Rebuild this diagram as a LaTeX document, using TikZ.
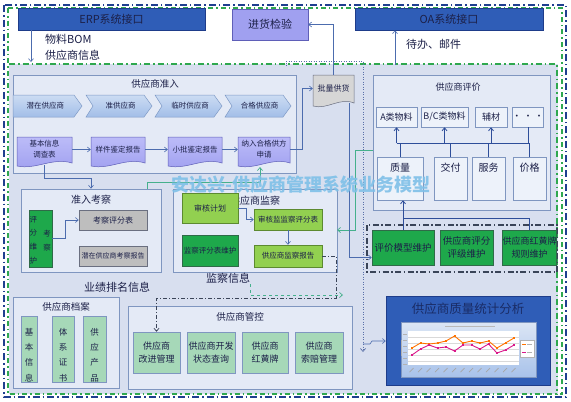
\documentclass[tikz,border=0pt]{standalone}
\usepackage{fontspec}
\setmainfont{Noto Sans CJK SC}
\usetikzlibrary{arrows.meta}
\definecolor{bgfill}{HTML}{D8DFEF}
\definecolor{pnfill}{HTML}{E4EAF6}
\definecolor{pnline}{HTML}{7F96C0}
\definecolor{dkblue}{HTML}{2F5DB7}
\definecolor{dkline}{HTML}{1E3C8A}
\definecolor{lav}{HTML}{A0A0F0}
\definecolor{lavtop}{HTML}{BCBCF8}
\definecolor{lavline}{HTML}{5F5FB8}
\definecolor{chevtop}{HTML}{CCDCF3}
\definecolor{chevbot}{HTML}{A2BEE8}
\definecolor{chevline}{HTML}{7E9AC6}
\definecolor{lnblue}{HTML}{4C6CAE}
\definecolor{pjline}{HTML}{2E4E9A}
\definecolor{gdark}{HTML}{1EA84B}
\definecolor{gdline}{HTML}{2F6A48}
\definecolor{glight}{HTML}{92D050}
\definecolor{glline}{HTML}{5C8A30}
\definecolor{gpale}{HTML}{A6D8B8}
\definecolor{gray1}{HTML}{BEBEBE}
\definecolor{grayline}{HTML}{6A6F80}
\definecolor{plgray}{HTML}{D6D6D6}
\definecolor{wbox}{HTML}{EDF2FA}
\definecolor{gconn}{HTML}{45B08C}
\definecolor{ddline}{HTML}{3A4458}
\definecolor{txt}{HTML}{1C2048}
\definecolor{wm}{HTML}{7FC0E8}
\definecolor{obl}{HTML}{1F3F8F}
\definecolor{ogr}{HTML}{2FA84F}
\definecolor{sttitle}{HTML}{1A2C66}
\definecolor{chtop}{HTML}{DCE6F5}
\definecolor{chbot}{HTML}{A8C2EA}
\definecolor{dotline}{HTML}{5A70A8}
\newcommand\fz[2]{\fontsize{#1}{#2}\selectfont}
\newcommand\bx[7][]{\node[box,minimum width={#5-#3},minimum height={#6-#4},#1] (#2) at ({(#3+#5)/2},{(#4+#6)/2}) {#7};}
\newcommand\docbox[7][]{%
 \path[docst,#1] (#3,#4) -- (#5,#4) -- (#5,#6-3) .. controls ({#3+0.65*(#5-#3)},#6-9) and ({#3+0.35*(#5-#3)},#6+4) .. (#3,#6) -- cycle;
 \node[lbl,minimum width={#5-#3},minimum height={#6-#4-4}] (#2) at ({(#3+#5)/2},{(#4+#6-4)/2}) {#7};}
\newcommand\chev[5]{%
 \path[chevst] (#3,95) -- ({#4-8},95) -- (#4,106) -- ({#4-8},117) -- (#3,117) -- ({#3+#1},106) -- cycle;
 \node[lbl] (#2) at ({(#3+#4)/2+#1/2-2},106) {#5};}
\begin{document}
\begin{tikzpicture}[x=1pt,y=-1pt,
  box/.style={draw=pnline,line width=0.5pt,inner sep=0pt,align=center,text=txt},
  panelbox/.style={box,fill=pnfill,draw=pnline,line width=0.7pt},
  lbl/.style={inner sep=0pt,text=txt,align=center},
  ar/.style={draw=lnblue,line width=0.6pt,-{Straight Barb[length=3pt,width=5pt]}},
  ln/.style={draw=lnblue,line width=0.6pt},
  pjl/.style={draw=pjline,line width=0.8pt},
  pjar/.style={draw=pjline,line width=0.8pt,-{Straight Barb[length=3pt,width=5pt]}},
  gar/.style={draw=gconn,line width=0.7pt,-{Straight Barb[length=3pt,width=5pt]}},
  docst/.style={draw=lavline,line width=0.5pt,top color=lavtop,bottom color=lav},
  chevst/.style={draw=chevline,line width=0.5pt,top color=chevtop,bottom color=chevbot},
  ddst/.style={draw=ddline,line width=0.7pt,dash pattern=on 4pt off 2pt on 1pt off 2pt},
  dotst/.style={draw=dotline,line width=0.7pt,dash pattern=on 1pt off 1.5pt}
]
\useasboundingbox (0,0) rectangle (571,402);
\fill[white] (0,0) rectangle (571,402);
\fill[bgfill] (9,64) rectangle (558,394);
% outer frames
\draw[obl,line width=1.3pt,dash pattern=on 7pt off 3pt on 1.5pt off 3pt] (4,5) rectangle (566,397);
\draw[ogr,line width=1.1pt,dash pattern=on 5pt off 3pt on 1.5pt off 3pt] (8,8) rectangle (562,394);
\draw[ogr,line width=1.3pt,dash pattern=on 6pt off 3pt on 1.5pt off 3pt] (9,64) -- (557,64) -- (557,394);
% top row
\bx[fill=dkblue,draw=dkline,font=\fz{11}{13}]{erp}{18}{8}{205}{30}{ERP系统接口}
\bx[fill=lav,draw=lavline,font=\fz{11}{13}]{jh}{232}{9}{308}{40}{进货检验}
\bx[fill=dkblue,draw=dkline,font=\fz{11}{13}]{oa}{355}{8}{543}{30}{OA系统接口}
\node[lbl,align=left,anchor=west,font=\fz{11}{16}] (lb1) at (45,47) {物料BOM\\供应商信息};
\node[lbl,anchor=west,font=\fz{11}{13}] (lb2) at (406,44) {待办、邮件};
% dotted column
\coordinate (dt0) at (286,66);
\coordinate (dt1) at (363,352);
\draw[dotst,-{Straight Barb[length=3pt,width=5pt]}] (dt0) -- (286,61) -- (363,61) -- (dt1);
% supplier admission panel
\bx[panelbox]{pZR}{13}{75}{296}{173}{}
\node[lbl,font=\fz{9.5}{11}] (tZR) at (155,84) {供应商准入};
\begin{scope}[font=\fz{7.5}{9}]
\chev{0}{c1}{13}{82}{潜在供应商}
\chev{7}{c2}{86}{152}{准供应商}
\chev{7}{c3}{155}{222}{临时供应商}
\chev{7}{c4}{225}{291}{合格供应商}
\end{scope}
\begin{scope}[font=\fz{7.5}{11}]
\docbox{d1}{17}{137}{72}{166}{基本信息\\调查表}
\docbox{d2}{91}{137}{145}{166}{样件鉴定报告}
\docbox{d3}{168}{137}{222}{166}{小批鉴定报告}
\docbox{d4}{238}{137}{290}{166}{纳入合格供方\\申请}
\end{scope}
\begin{scope}[font=\fz{8}{10}]
\docbox[top color=plgray,bottom color=plgray,draw=grayline]{pl}{313}{75}{354}{106}{批量供货}
\end{scope}
\draw[ar] (d1.east) -- (d2.west);
\draw[ar] (d2.east) -- (d3.west);
\draw[ar] (d3.east) -- (d4.west);
\draw[ar] (d4.east) -- ++(12,0) |- (pl.west);
\draw[ar] (pl.north) |- (jh.east);
\coordinate (erpOut) at (31,30);
\coordinate (erpIn) at (31,62);
\draw[ar] (erpOut) -- (erpIn);
\coordinate (oaIn) at (395,65);
\draw[ar] (oaIn) -- (oaIn |- oa.south);
% admission inspection panel
\bx[panelbox]{pZK}{21}{189}{161}{272}{}
\node[lbl,font=\fz{10}{12}] (tZK) at (91,200) {准入考察};
\bx[fill=gdark,draw=gdline]{pf}{29}{210}{52}{267}{}
\node[lbl,font=\fz{7.5}{13.8}] (pfa) at (33.5,240) {评\\分\\维\\护};
\node[lbl,font=\fz{7.5}{13.8}] (pfb) at (47,240.5) {考\\察};
\bx[fill=gray1,draw=grayline,font=\fz{8}{10}]{kp}{79}{210}{147}{230}{考察评分表}
\bx[fill=gray1,draw=grayline,font=\fz{7}{9}]{kr}{79}{246}{147}{266}{潜在供应商考察报告}
\draw[ar] (pf.east) -- ++(13,0) |- (kp.west);
\draw[ar] ([yshift=-3pt]d1.south) -- ++(0,13) -| (pZK.north);
% supervision panel
\bx[panelbox]{pJC}{173}{189}{337}{272}{}
\node[lbl,font=\fz{10}{12}] (tJC) at (255,201) {供应商监察};
\bx[fill=glight,draw=glline,font=\fz{8}{10}]{sh}{182}{193}{238}{223}{审核计划}
\bx[fill=gdark,draw=gdline,font=\fz{7.5}{9}]{jw}{182}{235}{238}{266}{监察评分表维护}
\bx[fill=glight,draw=glline,font=\fz{7.5}{9}]{jp}{254}{209}{322}{230}{审核监监察评分表}
\bx[fill=glight,draw=glline,font=\fz{7.5}{9}]{jr}{254}{245}{322}{267}{供应商监察报告}
\draw[ar] (sh.east) -- ++(8,0) |- (jp.west);
\draw[ar] (jp.south) -- (jr.north);
% green connectors
\coordinate (gA) at (147,189);
\coordinate (gB) at (260,167);
\draw[gar] (gA) -- (147,182) -- (260,182) -- (gB);
\coordinate (gC) at (373,150);
\coordinate (gD) at (337,230);
\draw[gar] (gC) -- (355,150) |- (gD);
% labels
\node[lbl,font=\fz{11}{13}] (lbJC) at (228,278) {监察信息};
\node[lbl,font=\fz{11}{13}] (lbYJ) at (117,287) {业绩排名信息};
\coordinate (gE) at (250,284);
\coordinate (gF) at (343,295);
\draw[gar,dashed] (gE) |- (gF);
% archive panel
\bx[panelbox]{pDA}{13}{297}{119}{388}{}
\node[lbl,font=\fz{9.5}{11}] (tDA) at (66,307) {供应商档案};
\bx[fill=gpale]{a1}{21}{316}{37}{382}{}
\bx[fill=gpale]{a2}{52}{316}{74}{382}{}
\bx[fill=gpale]{a3}{83}{316}{106}{382}{}
\node[lbl,font=\fz{8.5}{15.3}] (a1t) at (29,355) {基\\本\\信\\息};
\node[lbl,font=\fz{8.5}{15.3}] (a2t) at (63,355) {体\\系\\证\\书};
\node[lbl,font=\fz{8.5}{15.3}] (a3t) at (94.5,355) {供\\应\\产\\品};
% control panel
\bx[panelbox]{pGK}{128}{306}{352}{389}{}
\node[lbl,font=\fz{9.5}{11}] (tGK) at (240,317) {供应商管控};
\bx[fill=gpale,font=\fz{9}{12.5}]{gk1}{133}{332}{180}{373}{供应商\\改进管理}
\bx[fill=gpale,font=\fz{9}{12.5}]{gk2}{187}{332}{235}{373}{供应商开发\\状态查询}
\bx[fill=gpale,font=\fz{9}{12.5}]{gk3}{242}{332}{288}{373}{供应商\\红黄牌}
\bx[fill=gpale,font=\fz{9}{12.5}]{gk4}{295}{332}{343}{373}{供应商\\索赔管理}
\draw[ddst,-{Straight Barb[length=3pt,width=5pt]}] (jr.east) -| (336,298) -| (gk1.north);
% evaluation panel
\bx[panelbox]{pPJ}{373}{75}{550}{210}{}
\node[lbl,font=\fz{9}{11}] (tPJ) at (458,87) {供应商评价};
\bx[fill=wbox,font=\fz{9}{11}]{t1}{376}{107}{417}{127}{A类物料}
\bx[fill=wbox,font=\fz{9}{11}]{t2}{421}{107}{468}{127}{B/C类物料}
\bx[fill=wbox,font=\fz{9}{11}]{t3}{475}{107}{507}{127}{辅材}
\bx[fill=wbox,font=\fz{9}{11}]{t4}{513}{107}{543}{127}{• • •}
\bx[fill=wbox]{q1}{377}{157}{423}{200}{}
\bx[fill=wbox]{q2}{434}{157}{467}{200}{}
\bx[fill=wbox]{q3}{472}{157}{505}{200}{}
\bx[fill=wbox]{q4}{513}{157}{546}{200}{}
\node[lbl,font=\fz{10}{12}] (q1t) at (400,168) {质量};
\node[lbl,font=\fz{10}{12}] (q2t) at (450.5,168) {交付};
\node[lbl,font=\fz{10}{12}] (q3t) at (488.5,168) {服务};
\node[lbl,font=\fz{10}{12}] (q4t) at (529.5,168) {价格};
\coordinate (bus) at (0,143);
\draw[pjl] (t1.south |- bus) -- (q4.north |- bus);
\draw[pjl] (q1.north) -- (q1.north |- bus);
\draw[pjl] (q2.north) -- (q2.north |- bus);
\draw[pjl] (q3.north) -- (q3.north |- bus);
\draw[pjl] (q4.north) -- (q4.north |- bus);
\draw[pjar] (t1.south |- bus) -- (t1.south);
\draw[pjar] (t2.south |- bus) -- (t2.south);
\draw[pjar] (t3.south |- bus) -- (t3.south);
\draw[pjl] (t4.south |- bus) -- (t4.south);
% maintenance group
\draw[ddst,line width=1.1pt,dash pattern=on 6pt off 2.5pt on 1.5pt off 2.5pt] (367,225) rectangle (557,272);
\bx[fill=gdark,draw=gdline,font=\fz{9.5}{12}]{gm1}{372}{230}{434}{265}{评价模型维护}
\bx[fill=gdark,draw=gdline,font=\fz{9.5}{12.5}]{gm2}{440}{230}{493}{265}{供应商评分\\评级维护}
\bx[fill=gdark,draw=gdline,font=\fz{9}{12.5}]{gm3}{503}{230}{556}{265}{供应商红黄牌\\规则维护}
\draw[pjar] (gm1.north) -- (gm1.north |- q1.south);
\coordinate (cj) at (403,218);
\draw[pjl] (cj) -| (gm3.north);
\coordinate (plOut) at (349,103);
\draw[ar] (plOut) |- ([yshift=-10pt]gm1.west);
% statistics
\bx[fill=dkblue,draw=dkline]{st}{386}{296}{550}{385}{}
\node[lbl,font=\fz{12.5}{14},text=sttitle] (tST) at (468,309) {供应商质量统计分析};
\coordinate (dv) at (363,344);
\coordinate (k1) at (372,341);
\draw[ar] (dv) -- (370,344) -- (k1) -- (k1 -| st.west);
\shade[top color=chtop,bottom color=chbot,draw=pnline,line width=0.4pt] (401,322) rectangle (536,377);
\fill[white] (408,331) rectangle (519,365);
\foreach \yy in {337,343,349,355,361} \draw[gray!30,line width=0.3pt] (408,\yy) -- (519,\yy);
\fill[gray!55] (445,326) rectangle (495,327.2);
\foreach \yy in {334,340,346,352,358,364} \fill[gray!60] (403,\yy-0.4) rectangle (406.5,\yy+0.4);
\fill[gray!60] (400.8,340) rectangle (401.8,356);
\foreach \i in {0,...,12} \draw[gray!70,line width=0.7pt] ({412+8.5*\i-2.5},372) -- ({412+8.5*\i+1.5},368);
\draw[orange!90!red,line width=0.9pt] (412,348) -- (420.5,343) -- (429,344) -- (437.5,343) -- (446,341) -- (454.5,336) -- (463,343) -- (471.5,341) -- (480,343) -- (488.5,341) -- (497,348) -- (505.5,343) -- (514,338);
\draw[magenta!80!violet,line width=0.9pt] (412,355) -- (420.5,349) -- (429,345) -- (437.5,348) -- (446,347) -- (454.5,351) -- (463,345) -- (471.5,345) -- (480,349) -- (488.5,344) -- (497,353) -- (505.5,350) -- (514,345);
\foreach \xx/\yy in {412/348,420.5/343,429/344,437.5/343,446/341,454.5/336,463/343,471.5/341,480/343,488.5/341,497/348,505.5/343,514/338} \fill[orange!90!red] (\xx-1,\yy-1) rectangle (\xx+1,\yy+1);
\foreach \xx/\yy in {412/355,420.5/349,429/345,437.5/348,446/347,454.5/351,463/345,471.5/345,480/349,488.5/344,497/353,505.5/350,514/345} \fill[magenta!80!violet] (\xx-1,\yy-1) rectangle (\xx+1,\yy+1);
\draw[gray!60,fill=white,line width=0.3pt] (520,340) rectangle (534,357);
\draw[orange!90!red,line width=0.7pt] (522,344) -- (526,344);
\draw[magenta!80!violet,line width=0.7pt] (522,352) -- (526,352);
\fill[gray!60] (527,343.5) rectangle (532,344.5);
\fill[gray!60] (527,351.5) rectangle (532,352.5);
% watermark
\node[lbl,font=\fz{18}{20}\bfseries,text=wm,opacity=0.9] (wmk) at (301,185) {安达兴-供应商管理系统业务模型};
\end{tikzpicture}
\end{document}
